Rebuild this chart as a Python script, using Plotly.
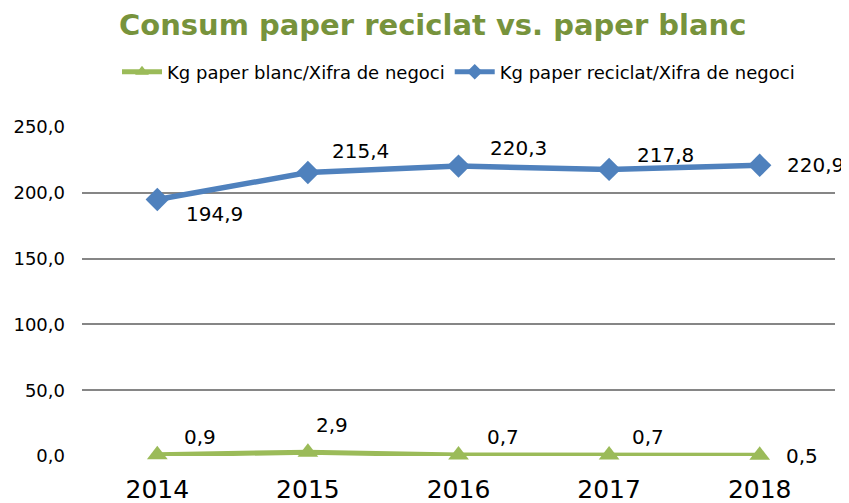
import plotly.graph_objects as go

years = ["2014", "2015", "2016", "2017", "2018"]
blanc = [0.9, 2.9, 0.7, 0.7, 0.5]
reciclat = [194.9, 215.4, 220.3, 217.8, 220.9]
# label offsets in pixels (dx, dy) relative to each point
blanc_off = [(43, 18), (24, 27), (44, 18), (39, 18), (42, -1)]
reciclat_off = [(57, -14), (53, 22), (60, 18), (56, 14), (56, 0)]

def fmt(v):
    return f"{v:.1f}".replace(".", ",")

GREEN = "#9BBB59"
BLUE = "#4F81BD"
FONT = "DejaVu Sans"

fig = go.Figure()
fig.add_trace(go.Scatter(
    x=years, y=blanc, name="Kg paper blanc/Xifra de negoci",
    mode="lines+markers",
    line=dict(color=GREEN, width=5),
    marker=dict(symbol="triangle-up", size=18, color=GREEN),
    cliponaxis=False,
))
fig.add_trace(go.Scatter(
    x=years, y=reciclat, name="Kg paper reciclat/Xifra de negoci",
    mode="lines+markers",
    line=dict(color=BLUE, width=5.5),
    marker=dict(symbol="diamond", size=18, color=BLUE),
    cliponaxis=False,
))

for series, offs in ((blanc, blanc_off), (reciclat, reciclat_off)):
    for i, (v, (dx, dy)) in enumerate(zip(series, offs)):
        fig.add_annotation(x=i, y=v, xref="x", yref="y", text=fmt(v), showarrow=False,
                           xshift=dx, yshift=dy,
                           font=dict(family=FONT, size=20, color="black"))

fig.update_layout(
    width=841, height=495,
    margin=dict(l=74, r=14, t=119, b=47, autoexpand=False),
    paper_bgcolor="white", plot_bgcolor="white",
    font=dict(family=FONT, color="black"),
    title=dict(text="<b>Consum paper reciclat vs. paper blanc</b>",
               font=dict(family=FONT, size=29, color="#77933C"),
               x=0.505, xanchor="center", y=0.9657, yanchor="middle"),
    legend=dict(orientation="h", x=0.5, xanchor="center", y=1.167, yanchor="middle",
                font=dict(family=FONT, size=18), itemwidth=40, traceorder="normal",
                itemsizing="constant"),
    showlegend=True,
    xaxis=dict(type="category", range=[-0.5, 4.5], showgrid=False, showline=False,
               ticks="", tickfont=dict(family=FONT, size=25), zeroline=False,
               automargin=False, ticklabelstandoff=16),
    yaxis=dict(range=[0, 250], dtick=50, showgrid=True, gridcolor="#868686", gridwidth=1.5,
               zeroline=False, showline=False, tickformat=".1f",
               tickfont=dict(family=FONT, size=18), automargin=False,
               ticklabelstandoff=16),
    separators=",.",
)
fig.write_html("out.html")
